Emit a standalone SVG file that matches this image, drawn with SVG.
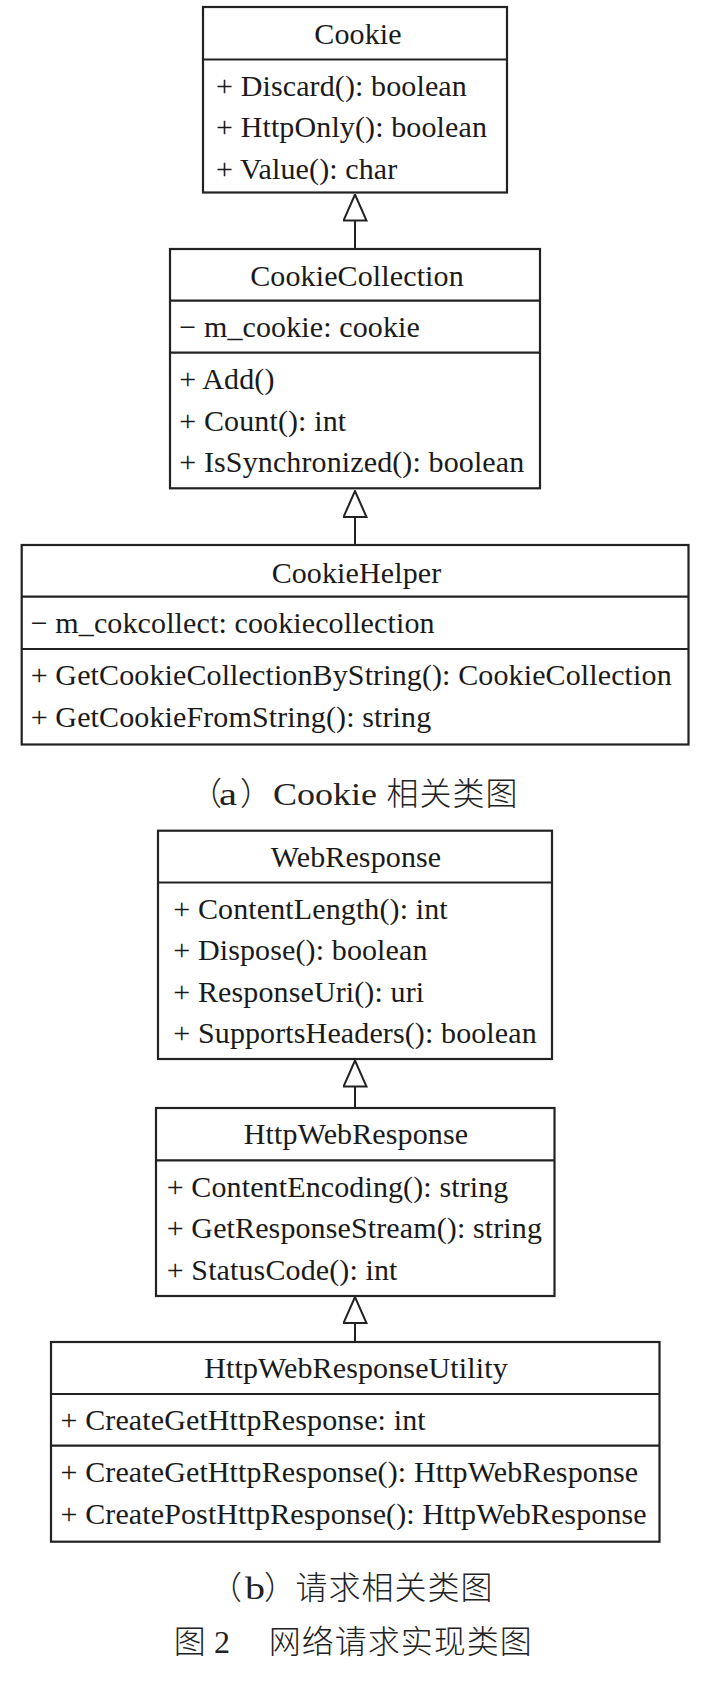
<svg xmlns="http://www.w3.org/2000/svg" width="702" height="1696" viewBox="0 0 702 1696">
<style>
.box{fill:#fff;stroke:#222;stroke-width:2.2}
.div{stroke:#222;stroke-width:2.2}
.t{font-family:"Liberation Serif","Times New Roman",serif;font-size:30px;fill:#1a1a1a;letter-spacing:0.12px}
.c{text-anchor:middle}
.conn{stroke:#222;stroke-width:2;fill:none}
.cap{font-family:"Liberation Serif","Times New Roman","Noto Sans CJK SC",serif;font-size:32px;fill:#222}
.cjk{font-family:"Noto Sans CJK SC",sans-serif;font-size:32px;font-weight:300}
</style>
<defs>
<marker id="inh" markerUnits="userSpaceOnUse" viewBox="0 0 28 25" refX="27" refY="12.5" markerWidth="28" markerHeight="25" orient="auto">
<path d="M1,1 L27,12.5 L1,24 Z" fill="#fff" stroke="#222" stroke-width="2"/>
</marker>
</defs>
<rect width="702" height="1696" fill="#fff"/>

<g id="connectors">
<line class="conn" x1="355" y1="249" x2="355" y2="194.5" marker-end="url(#inh)"/>
<line class="conn" x1="355" y1="545" x2="355" y2="491" marker-end="url(#inh)"/>
<line class="conn" x1="355" y1="1108" x2="355" y2="1060.5" marker-end="url(#inh)"/>
<line class="conn" x1="355" y1="1342" x2="355" y2="1297" marker-end="url(#inh)"/>
</g>

<g id="Cookie">
<rect class="box" x="203" y="7" width="304" height="185.5"/>
<line class="div" x1="203" y1="59.5" x2="507" y2="59.5"/>
<text class="t c" x="358" y="44.3">Cookie</text>
<text class="t" x="216" y="95.5">+ Discard(): boolean</text>
<text class="t" x="216" y="137">+ HttpOnly(): boolean</text>
<text class="t" x="216" y="178.5">+ Value(): char</text>
</g>

<g id="CookieCollection">
<rect class="box" x="170" y="249" width="370" height="239.3"/>
<line class="div" x1="170" y1="300.7" x2="540" y2="300.7"/>
<line class="div" x1="170" y1="352.7" x2="540" y2="352.7"/>
<text class="t c" x="357" y="286">CookieCollection</text>
<text class="t" x="179.3" y="336.7">− m_cookie: cookie</text>
<text class="t" x="179.3" y="389">+ Add()</text>
<text class="t" x="179.3" y="430.5">+ Count(): int</text>
<text class="t" x="179.3" y="472">+ IsSynchronized(): boolean</text>
</g>

<g id="CookieHelper">
<rect class="box" x="21.7" y="545" width="666.8" height="199.5"/>
<line class="div" x1="21.7" y1="596.7" x2="688.5" y2="596.7"/>
<line class="div" x1="21.7" y1="649" x2="688.5" y2="649"/>
<text class="t c" x="356.5" y="582.7">CookieHelper</text>
<text class="t" x="30.7" y="633.3">− m_cokcollect: cookiecollection</text>
<text class="t" x="30.7" y="685.3">+ GetCookieCollectionByString(): CookieCollection</text>
<text class="t" x="30.7" y="726.5">+ GetCookieFromString(): string</text>
</g>

<g id="captionA">
<text class="cap" y="804.5"><tspan class="cjk" x="190">（</tspan><tspan x="219" textLength="18" lengthAdjust="spacingAndGlyphs">a</tspan><tspan class="cjk" x="240">）</tspan><tspan x="273" textLength="104" lengthAdjust="spacingAndGlyphs">Cookie</tspan><tspan class="cjk" x="386.5" letter-spacing="1">相关类图</tspan></text>
</g>

<g id="WebResponse">
<rect class="box" x="158" y="830.7" width="394" height="228.3"/>
<line class="div" x1="158" y1="882.5" x2="552" y2="882.5"/>
<text class="t c" x="356" y="866.7">WebResponse</text>
<text class="t" x="173.3" y="918.5">+ ContentLength(): int</text>
<text class="t" x="173.3" y="960">+ Dispose(): boolean</text>
<text class="t" x="173.3" y="1001.5">+ ResponseUri(): uri</text>
<text class="t" x="173.3" y="1043">+ SupportsHeaders(): boolean</text>
</g>

<g id="HttpWebResponse">
<rect class="box" x="156" y="1108" width="398.5" height="188"/>
<line class="div" x1="156" y1="1160.3" x2="554.5" y2="1160.3"/>
<text class="t c" x="356" y="1144">HttpWebResponse</text>
<text class="t" x="166.7" y="1196.7">+ ContentEncoding(): string</text>
<text class="t" x="166.7" y="1238.2">+ GetResponseStream(): string</text>
<text class="t" x="166.7" y="1279.7">+ StatusCode(): int</text>
</g>

<g id="HttpWebResponseUtility">
<rect class="box" x="51" y="1342" width="608.5" height="199.7"/>
<line class="div" x1="51" y1="1394" x2="659.5" y2="1394"/>
<line class="div" x1="51" y1="1445.7" x2="659.5" y2="1445.7"/>
<text class="t c" x="356" y="1378.3">HttpWebResponseUtility</text>
<text class="t" x="60.5" y="1430">+ CreateGetHttpResponse: int</text>
<text class="t" x="60.5" y="1482">+ CreateGetHttpResponse(): HttpWebResponse</text>
<text class="t" x="60.5" y="1523.5">+ CreatePostHttpResponse(): HttpWebResponse</text>
</g>

<g id="captionB">
<text class="cap" y="1599"><tspan class="cjk" x="210">（</tspan><tspan x="245" textLength="20" lengthAdjust="spacingAndGlyphs">b</tspan><tspan class="cjk" x="264">）</tspan><tspan class="cjk" x="295.5" letter-spacing="1">请求相关类图</tspan></text>
</g>

<g id="figureTitle">
<text class="cap" y="1653"><tspan class="cjk" x="173.7">图</tspan><tspan x="214">2</tspan><tspan class="cjk" x="268.7" letter-spacing="1">网络请求实现类图</tspan></text>
</g>
</svg>
